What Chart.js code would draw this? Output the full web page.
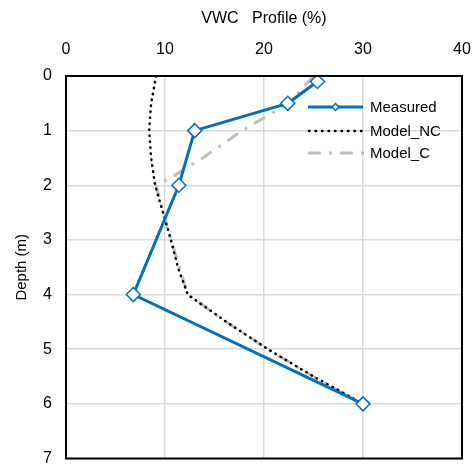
<!DOCTYPE html>
<html>
<head>
<meta charset="utf-8">
<script src="https://cdn.jsdelivr.net/npm/chart.js@4/dist/chart.umd.min.js"></script>
<style>
  html, body { margin: 0; padding: 0; background: #fff; }
  #wrap { width: 472px; height: 467px; }
</style>
</head>
<body>
<div id="wrap"><canvas id="vwcChart" width="472" height="467"></canvas></div>
<script>
// Perfil de humedad medido y modelos
const measuredDepth = [0.1, 0.5, 1, 2, 4, 6];
const measuredVwc = [25.4, 22.4, 13, 11.4, 6.8, 30];

const modelNcDepth = [0, 0.5, 1, 1.5, 2, 2.5, 3, 3.5, 4, 4.5, 5, 5.5, 6];
const modelNcVwc = [9.1, 8.6, 8.4, 8.6, 9.0, 9.8, 10.6, 11.3, 12.3, 16.2, 20.4, 25.0, 30];

const modelCDepth = [0, 0.5, 1, 1.5, 1.85, 2, 2.7, 3.35, 4, 4.5, 5, 5.5, 6];
const modelCVwc = [25.0, 22.5, 17.8, 13.8, 10.7, 9.1, 10.1, 11.2, 12.3, 16.2, 20.4, 25.0, 30];

const xTicks = [0, 10, 20, 30, 40];
const yTicks = [0, 1, 2, 3, 4, 5, 6, 7];

const toPoints = (xs, ys) => xs.map((v, i) => ({ x: v, y: ys[i] }));

const FONT = "'Liberation Sans', Arial, sans-serif";

// leyenda dibujada dentro del area del grafico
const insideLegend = {
    id: "insideLegend",
    afterDraw(chart) {
        const { ctx, chartArea } = chart;
        const x0 = chartArea.right - 154;
        const rows = [
            { label: "Measured", y: chartArea.top + 31 },
            { label: "Model_NC", y: chartArea.top + 55 },
            { label: "Model_C", y: chartArea.top + 77 },
        ];
        ctx.save();
        // Measured
        ctx.strokeStyle = "#0070C0";
        ctx.lineWidth = 3;
        ctx.beginPath();
        ctx.moveTo(x0, rows[0].y);
        ctx.lineTo(x0 + 55, rows[0].y);
        ctx.stroke();
        ctx.fillStyle = "#fff";
        ctx.lineWidth = 1.5;
        ctx.beginPath();
        const mx = x0 + 27.5, my = rows[0].y, r = 3.5;
        ctx.moveTo(mx, my - r); ctx.lineTo(mx + r, my); ctx.lineTo(mx, my + r); ctx.lineTo(mx - r, my);
        ctx.closePath();
        ctx.fill(); ctx.stroke();
        // Model_NC
        ctx.strokeStyle = "#000";
        ctx.lineWidth = 2.5;
        ctx.lineCap = "round";
        ctx.setLineDash([0.5, 6]);
        ctx.beginPath();
        ctx.moveTo(x0 + 1, rows[1].y);
        ctx.lineTo(x0 + 55, rows[1].y);
        ctx.stroke();
        // Model_C
        ctx.lineCap = "butt";
        ctx.strokeStyle = "#BFBFBF";
        ctx.lineWidth = 3;
        ctx.setLineDash([13, 8, 3, 8]);
        ctx.beginPath();
        ctx.moveTo(x0, rows[2].y);
        ctx.lineTo(x0 + 57, rows[2].y);
        ctx.stroke();
        ctx.setLineDash([]);
        // textos
        ctx.fillStyle = "#000";
        ctx.font = "15px " + FONT;
        ctx.textBaseline = "middle";
        rows.forEach(r => ctx.fillText(r.label, x0 + 62, r.y + 1));
        ctx.restore();
    },
};

// borde negro del area del grafico
const plotBorder = {
    id: "plotBorder",
    afterDatasetsDraw(chart) {
        const { ctx, chartArea } = chart;
        ctx.save();
        ctx.strokeStyle = "#000";
        ctx.lineWidth = 2;
        ctx.strokeRect(chartArea.left, chartArea.top, chartArea.right - chartArea.left, chartArea.bottom - chartArea.top);
        ctx.restore();
    },
};

const fixX = s => {
    s.height = 76;
    s.paddingLeft = 0;
    s.paddingRight = 0;
};
const fixY = s => {
    s.width = 66;
    s.paddingTop = 0;
    s.paddingBottom = 0;
};

const ctx = document.getElementById("vwcChart").getContext("2d");
const vwcChart = new Chart(ctx, {
    type: "scatter",
    data: {
        datasets: [
            {
                label: "Measured",
                data: toPoints(measuredVwc, measuredDepth),
                showLine: true,
                borderColor: "#0070C0",
                borderWidth: 3,
                pointStyle: "rectRot",
                pointRadius: 7,
                pointBorderWidth: 1.5,
                pointBackgroundColor: "#fff",
                pointBorderColor: "#0070C0",
            },
            {
                label: "Model_NC",
                data: toPoints(modelNcVwc, modelNcDepth),
                showLine: true,
                borderColor: "#000",
                borderWidth: 2.5,
                borderCapStyle: "round",
                borderDash: [0.5, 5.5],
                pointRadius: 0,
            },
            {
                label: "Model_C",
                data: toPoints(modelCVwc, modelCDepth),
                showLine: true,
                borderColor: "#BFBFBF",
                borderWidth: 3,
                borderDash: [13, 8, 3, 8],
                pointRadius: 0,
            },
        ],
    },
    options: {
        responsive: false,
        animation: false,
        layout: { padding: { left: 0, right: 10, top: 0, bottom: 7 } },
        plugins: {
            legend: { display: false },
            tooltip: { enabled: false },
        },
        scales: {
            x: {
                type: "linear",
                position: "top",
                min: 0,
                max: 40,
                afterBuildTicks: s => { s.ticks = xTicks.map(v => ({ value: v })); },
                afterFit: fixX,
                grid: { color: "#D9D9D9", lineWidth: 1.5, drawTicks: false },
                border: { display: false },
                ticks: { color: "#000", padding: 17, font: { family: FONT, size: 16 } },
                title: {
                    display: true,
                    text: "VWC   Profile (%)",
                    color: "#000",
                    padding: { top: 9, bottom: 4 },
                    font: { family: FONT, size: 16 },
                },
            },
            y: {
                type: "linear",
                reverse: true,
                min: 0,
                max: 7,
                afterBuildTicks: s => { s.ticks = yTicks.map(v => ({ value: v })); },
                afterFit: fixY,
                grid: { color: "#D9D9D9", lineWidth: 1.5, drawTicks: false },
                border: { display: false },
                ticks: { color: "#000", padding: 14, font: { family: FONT, size: 16 } },
                title: {
                    display: true,
                    text: "Depth (m)",
                    color: "#000",
                    padding: { top: 13, bottom: 4 },
                    font: { family: FONT, size: 15 },
                },
            },
        },
    },
    plugins: [plotBorder, insideLegend],
});
</script>
</body>
</html>
